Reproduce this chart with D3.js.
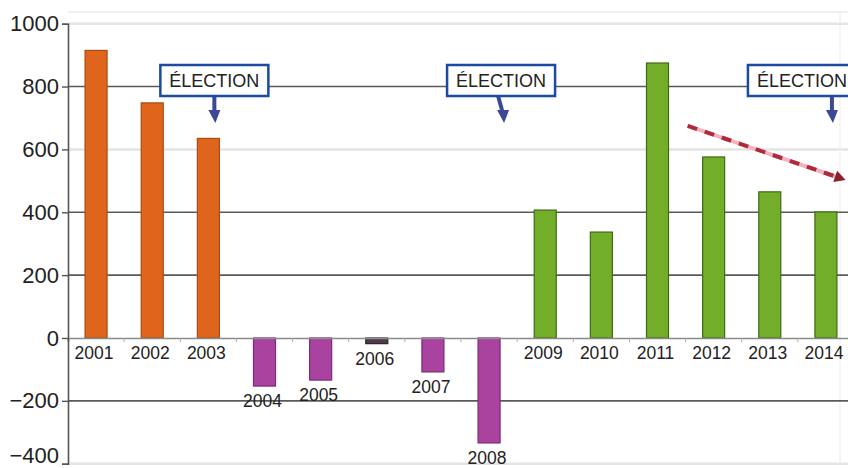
<!DOCTYPE html>
<html><head><meta charset="utf-8">
<script src="https://cdn.jsdelivr.net/npm/d3@7"></script>
<style>body{margin:0;background:#fff}svg{display:block;font-family:"Liberation Sans",Arial,sans-serif}</style>
</head><body>
<svg id="c" width="848" height="468"></svg>
<script>
const years = ["2001","2002","2003","2004","2005","2006","2007","2008","2009","2010","2011","2012","2013","2014"];
const values = [915, 748, 635, -153, -134, -18, -108, -334, 407, 337, 875, 576, 465, 401];
const groups = ["a","a","a","b","b","c","b","b","g","g","g","g","g","g"];
const yTicks = [1000, 800, 600, 400, 200, 0, -200, -400];
const darkGrid = [800, 400, 200, -200];
const lightGrid = [1000, 600, -400];
const electionYears = ["2003", "2008", "2014"];
const electionLabel = "ÉLECTION";
const trendYears = ["2012", "2014"];
const trendValues = [675, 509];

const fills = {a:"#E0651C", b:"#A9439F", c:"#4d3a4c", g:"#72AE2A"};
const strokes = {a:"#A94A12", b:"#7C2B76", c:"#2e242e", g:"#3f6a14"};

const svg = d3.select("#c");
svg.append("rect").attr("width",848).attr("height",468).attr("fill","#fff");

const y = d3.scaleLinear().domain([-400, 1000]).range([463.7, 23.7]);
const x = d3.scaleBand().domain(years).range([68, 854]).paddingInner(0.608).paddingOuter(0.304);
const bw = x.bandwidth();
const cx = yr => x(yr) + bw / 2;

// grid
svg.append("g").selectAll("line").data(lightGrid).join("line")
  .attr("x1", 68).attr("x2", 848).attr("y1", d => y(d)).attr("y2", d => y(d))
  .attr("stroke", "#e4e4e4").attr("stroke-width", 2.5);
svg.append("line").attr("x1",68).attr("x2",848).attr("y1",12).attr("y2",12).attr("stroke","#f0f0f0").attr("stroke-width",2);
svg.append("line").attr("x1",840).attr("x2",840).attr("y1",12).attr("y2",464).attr("stroke","#ececec").attr("stroke-width",1);
svg.append("g").selectAll("line").data(darkGrid).join("line")
  .attr("x1", 68).attr("x2", 848).attr("y1", d => y(d)).attr("y2", d => y(d))
  .attr("stroke", "#5a5a5a").attr("stroke-width", 1.6);

// bars
svg.append("g").selectAll("rect").data(years).join("rect")
  .attr("x", d => x(d)).attr("width", bw)
  .attr("y", (d,i) => y(Math.max(0, values[i])))
  .attr("height", (d,i) => Math.abs(y(values[i]) - y(0)))
  .attr("fill", (d,i) => fills[groups[i]])
  .attr("stroke", (d,i) => strokes[groups[i]]).attr("stroke-width", 1.2);

// zero axis
const xAxis = d3.axisBottom(x).tickSize(4).tickFormat("");
const gx = svg.append("g").attr("transform", `translate(0,${y(0)})`).call(xAxis);
gx.select(".domain").attr("stroke", "#8a8a8a").attr("stroke-width", 1.5);
gx.selectAll(".tick line").attr("stroke", "#aaa").attr("transform", `translate(${-x.step()/2},0)`);

// y axis
const yAxis = d3.axisLeft(y).tickValues(yTicks).tickSize(6).tickPadding(3).tickFormat(d3.format("d"));
const gy = svg.append("g").attr("transform", "translate(68,0)").call(yAxis);
gy.select(".domain").attr("stroke", "#555").attr("stroke-width", 1.6);
gy.selectAll(".tick line").attr("stroke", "#555").attr("stroke-width", 1.4);
gy.selectAll(".tick text").attr("font-size", 22).attr("fill", "#222")
  .attr("font-family", '"Liberation Sans", Arial, sans-serif')
  .attr("dy", d => d === -400 ? "-0.05em" : "0.32em");

// year labels
svg.append("g").selectAll("text").data(years).join("text")
  .attr("x", d => cx(d) - 2)
  .attr("y", (d,i) => values[i] >= 0 ? y(0) + 21 : y(values[i]) + 21)
  .attr("text-anchor", "middle").attr("font-size", 17.5).attr("fill", "#222")
  .text(d => d);

// election boxes and arrows
const boxOffsets = [6, 12, -24];
const arrowOffsets = [[6,6],[9,14],[6,6]];
const eg = svg.append("g");
electionYears.forEach((yr, i) => {
  const c = cx(yr) + boxOffsets[i];
  const bx = c - 54, by = 65, bwid = 108, bh = 31;
  const a0 = cx(yr) + arrowOffsets[i][0], a1 = cx(yr) + arrowOffsets[i][1];
  eg.append("line").attr("x1", a0).attr("y1", by + bh).attr("x2", a1).attr("y2", by + bh + 18)
    .attr("stroke", "#3a4896").attr("stroke-width", 4);
  eg.append("path")
    .attr("d", `M${a1 - 6},${by + bh + 14} L${a1 + 6},${by + bh + 14} L${a1 + 1},${by + bh + 27} Z`)
    .attr("fill", "#3a4896");
  eg.append("rect").attr("x", bx).attr("y", by).attr("width", bwid).attr("height", bh)
    .attr("fill", "#fff").attr("stroke", "#1b4aa3").attr("stroke-width", 2.5);
  eg.append("text").attr("x", c).attr("y", by + bh/2 + 6.5).attr("text-anchor", "middle")
    .attr("font-size", 18).attr("fill", "#222").text(electionLabel);
});

// trend line
const tx0 = cx(trendYears[0]) - 26, tx1 = cx(trendYears[1]) + 14;
const ty0 = y(trendValues[0]), ty1 = y(trendValues[1]);
svg.append("line").attr("x1", tx0).attr("y1", ty0).attr("x2", tx1).attr("y2", ty1)
  .attr("stroke", "#f3b4bd").attr("stroke-width", 4);
svg.append("line").attr("x1", tx0).attr("y1", ty0).attr("x2", tx1).attr("y2", ty1)
  .attr("stroke", "#b02a3c").attr("stroke-width", 4).attr("stroke-dasharray", "10 8");
const ang = Math.atan2(ty1 - ty0, tx1 - tx0);
const hx = tx1 + 6 * Math.cos(ang), hy = ty1 + 6 * Math.sin(ang);
const p = (l, w) => [hx - l*Math.cos(ang) - w*Math.sin(ang), hy - l*Math.sin(ang) + w*Math.cos(ang)];
svg.append("path").attr("d", `M${hx},${hy} L${p(11,6).join(",")} L${p(11,-6).join(",")} Z`).attr("fill", "#8a2030");
</script>
</body></html>
